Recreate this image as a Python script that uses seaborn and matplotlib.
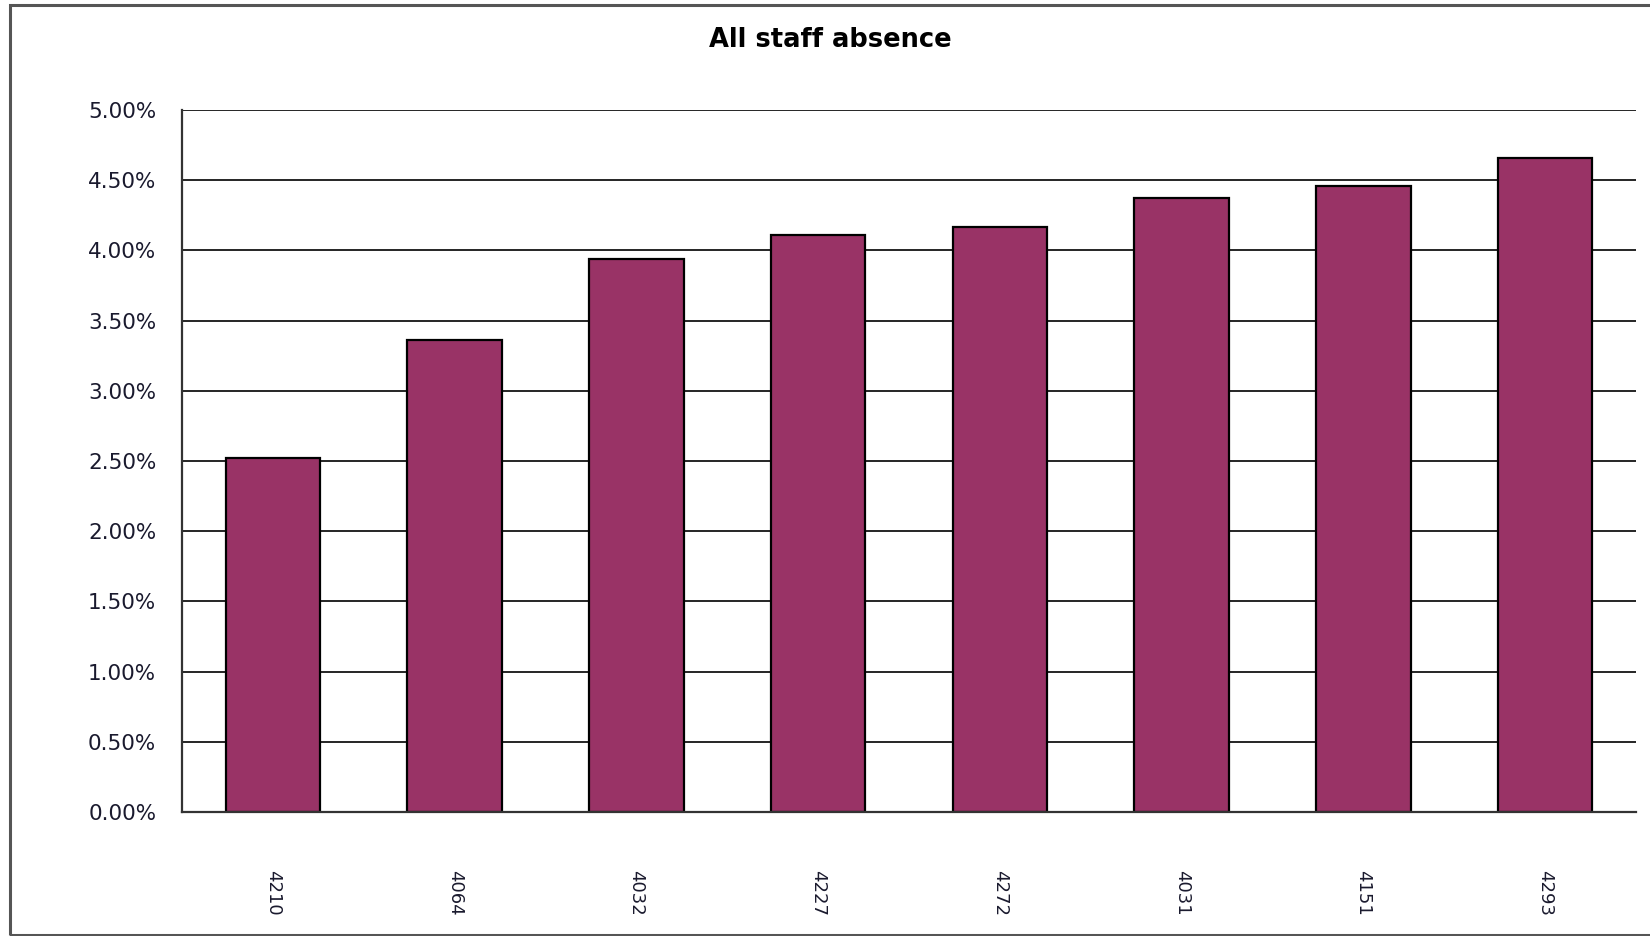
import matplotlib
matplotlib.use("Agg")
import matplotlib.pyplot as plt
from matplotlib.patches import Rectangle
from matplotlib.ticker import PercentFormatter, FixedLocator
import seaborn as sns

# Staff absence rate per site (percent)
sites = ["4210", "4064", "4032", "4227", "4272", "4031", "4151", "4293"]
absence_pct = [2.52, 3.36, 3.94, 4.11, 4.17, 4.37, 4.46, 4.66]
y_ticks = [0.0, 0.5, 1.0, 1.5, 2.0, 2.5, 3.0, 3.5, 4.0, 4.5, 5.0]

sns.set_style("white")
plt.rcParams["font.family"] = ["DejaVu Sans"]

W, H = 1650, 936
fig = plt.figure(figsize=(W / 100, H / 100), dpi=100)
ax = fig.add_axes([182 / W, 1 - 812 / H, (1636 - 182) / W, (812 - 110) / H])

sns.barplot(x=sites, y=absence_pct, ax=ax, color="#993366", saturation=1,
            edgecolor="black", linewidth=1.6, width=0.52, zorder=3)

ax.set_xlim(-0.5, len(sites) - 0.5)
ax.set_ylim(0, 5.0)
ax.set_yticks(y_ticks)
ax.yaxis.set_major_formatter(PercentFormatter(xmax=100, decimals=2))
ax.grid(axis="y", color="black", linewidth=1.2, zorder=0)
ax.set_axisbelow(True)

for side in ("top", "right"):
    ax.spines[side].set_visible(False)
for side in ("left", "bottom"):
    ax.spines[side].set_color("#333333")
    ax.spines[side].set_linewidth(1.6)
    ax.spines[side].set_zorder(4)

ax.tick_params(axis="y", which="major", direction="out", length=7.5, width=1.2,
               color="black", pad=11, labelsize=15.5, labelcolor="#1a1a2e")
ax.tick_params(axis="x", which="major", length=0, pad=42)
ax.xaxis.set_minor_locator(FixedLocator([i - 0.5 for i in range(len(sites) + 1)]))
ax.tick_params(axis="x", which="minor", direction="out", length=4.5, width=1.6,
               color="#333333")
for lbl in ax.get_xticklabels():
    lbl.set_rotation(-90)
    lbl.set_fontfamily(["Liberation Sans Narrow", "DejaVu Sans"])
    lbl.set_fontsize(13)
    lbl.set_va("top")
    lbl.set_ha("center")
    lbl.set_color("#1a1a2e")
for lbl in ax.get_yticklabels():
    lbl.set_fontfamily("DejaVu Sans")

ax.set_xlabel("")
ax.set_ylabel("")

fig.text(830 / W, 1 - 40 / H, "All staff absence", ha="center", va="center",
         fontsize=18.5, fontweight="bold", fontfamily="DejaVu Sans", color="black")

# outer chart frame
fig.patches.append(Rectangle((10 / W, 1 - 935 / H), 1.2, (935 - 5) / H,
                             transform=fig.transFigure, fill=False,
                             edgecolor="#555555", linewidth=2.2, zorder=10))

fig.savefig("out.png", dpi=100, facecolor="white")
